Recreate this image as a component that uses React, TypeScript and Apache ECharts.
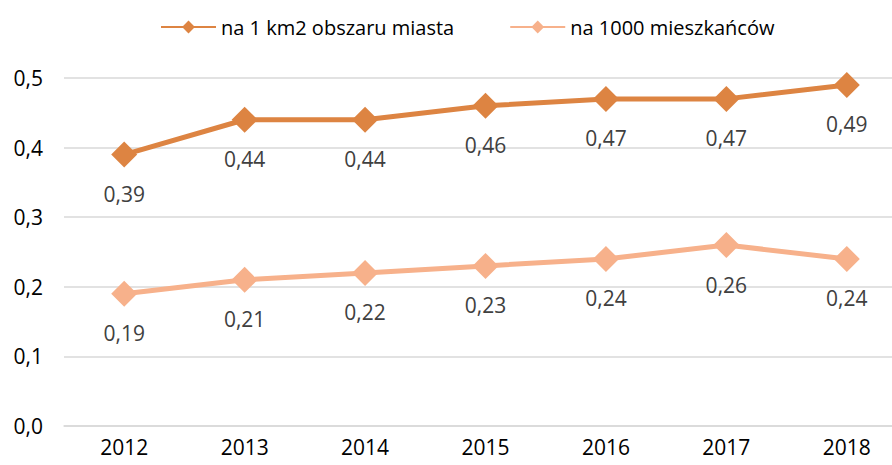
import React, { useEffect, useRef } from "react";
import * as echarts from "echarts";

const categories = ["2012", "2013", "2014", "2015", "2016", "2017", "2018"];
const perKm2 = [0.39, 0.44, 0.44, 0.46, 0.47, 0.47, 0.49];
const per1000 = [0.19, 0.21, 0.22, 0.23, 0.24, 0.26, 0.24];
const seriesNames = ["na 1 km2 obszaru miasta", "na 1000 mieszkańców"];
const colors = ["#DD8442", "#F7B18B"];

const FONT = "'Open Sans', 'Noto Sans', sans-serif";
const fmt = (v: number, d: number) => v.toFixed(d).replace(".", ",");

export default function App() {
  const ref = useRef<HTMLDivElement>(null);
  useEffect(() => {
    if (!ref.current) return;
    const chart = echarts.init(ref.current, undefined, { renderer: "svg" });
    const mk = (name: string, data: number[], color: string) => ({
      name,
      type: "line",
      data,
      symbol: "diamond",
      symbolSize: 26,
      itemStyle: { color },
      lineStyle: { color, width: 5 },
      label: {
        show: true,
        position: "bottom",
        distance: 16,
        color: "#404040",
        fontSize: 21,
        fontFamily: FONT,
        formatter: (p: any) => fmt(p.value, 2),
      },
    });
    chart.setOption({
      animation: false,
      backgroundColor: "#ffffff",
      legend: {
        top: 12,
        left: 155,
        itemWidth: 55,
        itemHeight: 16,
        itemGap: 55,
        textStyle: { fontSize: 20, color: "#000", fontFamily: FONT },
        data: seriesNames,
      },
      grid: {
        left: 64,
        top: 78,
        width: 843,
        height: 348,
        outerBoundsMode: "none",
        containLabel: false,
      },
      xAxis: {
        type: "category",
        data: categories,
        boundaryGap: true,
        axisLine: { show: true, lineStyle: { color: "#D9D9D9", width: 1.5 } },
        axisTick: { show: false },
        axisLabel: { color: "#000", fontSize: 21, fontFamily: FONT, margin: 10 },
      },
      yAxis: {
        type: "value",
        min: 0,
        max: 0.5,
        interval: 0.1,
        axisLine: { show: false },
        axisTick: { show: false },
        splitLine: { lineStyle: { color: "#D9D9D9", width: 1.5 } },
        axisLabel: {
          color: "#000",
          fontSize: 21,
          fontFamily: FONT,
          margin: 21,
          formatter: (v: number) => fmt(v, 1),
        },
      },
      series: [
        mk(seriesNames[0], perKm2, colors[0]),
        mk(seriesNames[1], per1000, colors[1]),
      ],
    });
    return () => chart.dispose();
  }, []);
  return <div ref={ref} style={{ width: 892, height: 465, position: "absolute", left: 0, top: 0 }} />;
}
